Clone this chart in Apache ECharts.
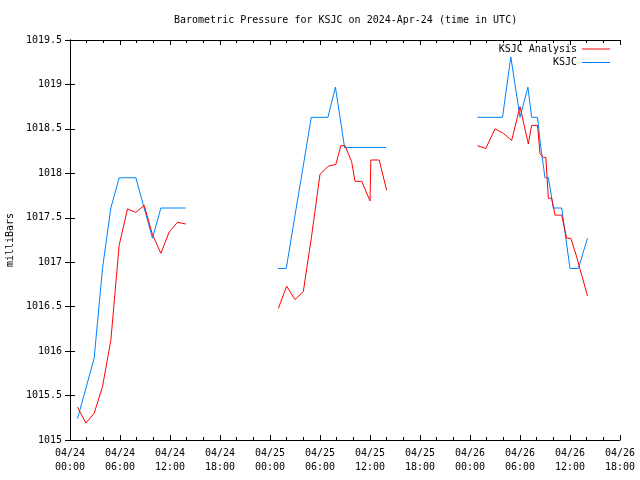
<!DOCTYPE html>
<html>
<head>
<meta charset="utf-8">
<script src="https://cdn.jsdelivr.net/npm/echarts@6/dist/echarts.min.js"></script>
<style>html,body{margin:0;padding:0;background:#fff;}#c{width:640px;height:480px;}</style>
</head>
<body>
<div id="c"></div>
<script>
// Hours since 2024-04-24 00:00 UTC
const analysisTimes1 = [0.9,1.9,2.9,3.9,4.9,5.9,6.9,7.9,8.9,9.9,10.9,11.9,12.9,13.9];
const analysisVals1  = [1015.37,1015.19,1015.30,1015.60,1016.12,1017.19,1017.60,1017.56,1017.64,1017.31,1017.10,1017.34,1017.45,1017.43];
const analysisTimes2 = [25.0,26.0,27.0,28.0,29.0,30.0,31.0,31.9,32.5,33.0,33.8,34.2,35.0,36.0,36.1,37.1,38.0];
const analysisVals2  = [1016.48,1016.73,1016.58,1016.67,1017.30,1017.99,1018.08,1018.10,1018.31,1018.31,1018.13,1017.91,1017.91,1017.69,1018.15,1018.15,1017.81];
const analysisTimes3 = [48.9,49.9,51.0,52.0,53.0,54.0,55.0,55.4,56.1,56.4,56.8,57.1,57.4,57.8,58.2,59.0,59.6,60.1,60.8,62.1];
const analysisVals3  = [1018.31,1018.28,1018.50,1018.45,1018.37,1018.75,1018.33,1018.54,1018.54,1018.22,1018.18,1018.18,1017.72,1017.72,1017.53,1017.53,1017.27,1017.27,1017.06,1016.62];

const ksjcTimes1 = [0.9,1.9,2.9,3.9,4.9,5.9,6.9,7.9,8.9,9.9,10.9,11.9,12.9,13.9];
const ksjcVals1  = [1015.24,1015.58,1015.92,1016.93,1017.61,1017.95,1017.95,1017.95,1017.61,1017.27,1017.61,1017.61,1017.61,1017.61];
const ksjcTimes2 = [24.95,25.95,26.95,27.95,28.95,29.95,30.95,31.85,32.95,33.95,34.95,35.95,36.95,37.95];
const ksjcVals2  = [1016.93,1016.93,1017.50,1018.06,1018.63,1018.63,1018.63,1018.97,1018.29,1018.29,1018.29,1018.29,1018.29,1018.29];
const ksjcTimes3 = [48.9,49.9,50.9,51.9,52.9,54.0,54.95,55.4,56.1,56.5,57.0,57.4,58.0,59.0,59.5,60.0,61.0,62.1];
const ksjcVals3  = [1018.63,1018.63,1018.63,1018.63,1019.31,1018.63,1018.97,1018.63,1018.63,1018.29,1017.95,1017.95,1017.61,1017.61,1017.27,1016.93,1016.93,1017.27];

const xMin = 0, xMax = 66, xStep = 6;
const yMin = 1015, yMax = 1019.5, yStep = 0.5;
const titleText = 'Barometric Pressure for KSJC on 2024-Apr-24 (time in UTC)';
const yName = 'milliBars';
const nameA = 'KSJC Analysis', nameK = 'KSJC';

const FONT = 'DejaVu Sans Mono';
const RED = '#ff0000', BLUE = '#0080ff';

function zip(t, v) { return t.map((x, i) => [x, v[i]]); }
function pad(n) { return (n < 10 ? '0' : '') + n; }
function xLabel(h) {
  const day = 24 + Math.floor(h / 24);
  const hh = Math.round(h % 24);
  return '04/' + pad(day) + '\n' + pad(hh) + ':00';
}
function lineSeries(name, color, data) {
  return {
    name: name, type: 'line', data: data, color: color,
    showSymbol: false, symbol: 'none', smooth: false,
    lineStyle: { width: 1, color: color }, emphasis: { disabled: true },
    xAxisIndex: 0, yAxisIndex: 0, animation: false, z: color === RED ? 3 : 2
  };
}

const chart = echarts.init(document.getElementById('c'), null, { renderer: 'canvas' });
const axisLineStyle = { show: true, lineStyle: { color: '#000', width: 1 } };
chart.setOption({
  animation: false,
  backgroundColor: '#fff',
  title: {
    text: titleText, left: 174, top: 15, padding: 0,
    textStyle: { fontFamily: FONT, fontSize: 10, fontWeight: 'normal', color: '#000' }
  },
  legend: [
    { data: [nameA], right: 30, top: 44, padding: 0, align: 'right', icon: 'rect',
      itemWidth: 28, itemHeight: 1, selectedMode: false,
      textStyle: { fontFamily: FONT, fontSize: 10, color: '#000' } },
    { data: [nameK], right: 30, top: 57.5, padding: 0, align: 'right', icon: 'rect',
      itemWidth: 28, itemHeight: 1, selectedMode: false,
      textStyle: { fontFamily: FONT, fontSize: 10, color: '#000' } }
  ],
  grid: { left: 70, right: 20, top: 40, bottom: 40, containLabel: false, outerBoundsMode: 'none' },
  xAxis: [
    { type: 'value', position: 'bottom', min: xMin, max: xMax, interval: xStep,
      axisLine: axisLineStyle,
      axisTick: { show: true, inside: true, length: 5, lineStyle: { color: '#000' } },
      minorTick: { show: true, splitNumber: 3, length: 3, lineStyle: { color: '#000' } },
      splitLine: { show: false },
      axisLabel: { margin: 6, fontFamily: FONT, fontSize: 10, color: '#000', lineHeight: 14,
                   formatter: xLabel } },
    { type: 'value', position: 'top', min: xMin, max: xMax, interval: xStep,
      axisLine: axisLineStyle,
      axisTick: { show: true, inside: true, length: 5, lineStyle: { color: '#000' } },
      minorTick: { show: true, splitNumber: 3, length: 3, lineStyle: { color: '#000' } },
      splitLine: { show: false }, axisLabel: { show: false } }
  ],
  yAxis: [
    { type: 'value', position: 'left', min: yMin, max: yMax, interval: yStep,
      axisLine: axisLineStyle,
      axisTick: { show: true, inside: true, length: 5, lineStyle: { color: '#000' } },
      splitLine: { show: false },
      axisLabel: { margin: 8, fontFamily: FONT, fontSize: 10, color: '#000',
                   formatter: v => String(v) },
      name: yName, nameLocation: 'middle', nameRotate: 90, nameGap: 55,
      nameTextStyle: { fontFamily: FONT, fontSize: 10, color: '#000' } },
    { type: 'value', position: 'right', min: yMin, max: yMax, interval: yStep,
      axisLine: axisLineStyle,
      axisTick: { show: true, inside: true, length: 5, lineStyle: { color: '#000' } },
      splitLine: { show: false }, axisLabel: { show: false } }
  ],
  series: [
    lineSeries(nameA, RED, zip(analysisTimes1, analysisVals1)),
    lineSeries(nameA, RED, zip(analysisTimes2, analysisVals2)),
    lineSeries(nameA, RED, zip(analysisTimes3, analysisVals3)),
    lineSeries(nameK, BLUE, zip(ksjcTimes1, ksjcVals1)),
    lineSeries(nameK, BLUE, zip(ksjcTimes2, ksjcVals2)),
    lineSeries(nameK, BLUE, zip(ksjcTimes3, ksjcVals3))
  ]
});
</script>
</body>
</html>
